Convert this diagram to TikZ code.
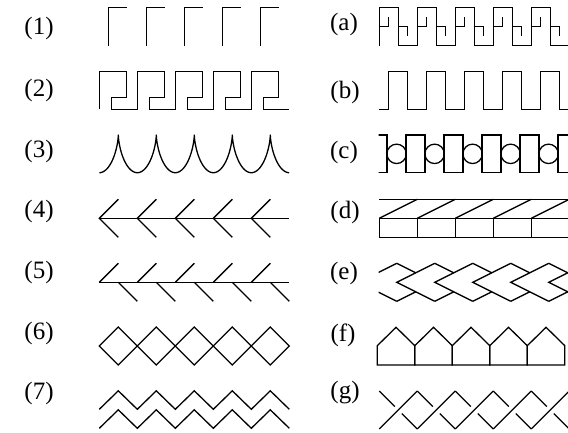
\documentclass[tikz,border=0pt]{standalone}
\usepackage{fontspec}
\setmainfont{Liberation Serif}
\begin{document}
\begin{tikzpicture}[x=1pt,y=-1pt,line width=1.3pt,line join=miter,
  lbl/.style={font=\fontsize{25}{28}\selectfont,inner sep=0pt}]
\useasboundingbox (0,0) rectangle (568,433);
% labels
\node[lbl] (l1) at (39,28) {(1)};
\node[lbl] (l2) at (39,90) {(2)};
\node[lbl] (l3) at (39,151) {(3)};
\node[lbl] (l4) at (39,211) {(4)};
\node[lbl] (l5) at (39,272) {(5)};
\node[lbl] (l6) at (39,333) {(6)};
\node[lbl] (l7) at (39,393) {(7)};
\node[lbl] (la) at (344,24) {(a)};
\node[lbl] (lb) at (345,92) {(b)};
\node[lbl] (lc) at (344,152) {(c)};
\node[lbl] (ld) at (345,212) {(d)};
\node[lbl] (le) at (344,273) {(e)};
\node[lbl] (lf) at (343,335) {(f)};
\node[lbl] (lg) at (345,393) {(g)};
% (1)
\foreach \k in {0,...,4}
  \draw ({108.3+38*\k},45.7) -- ++(0,-38.4) -- ++(19,0);
% (2) greek key
\draw (99.3,109.3) \foreach \k in {0,...,4}{
  -- ({99.3+38*\k},71.7) -- ({126.3+38*\k},71.7) -- ({126.3+38*\k},97.3)
  -- ({111.8+38*\k},97.3) -- ({111.8+38*\k},109.3) -- ({137.3+38*\k},109.3)};
% (3) cusps
\draw[line join=round] plot[domain=-3.14159:28.2743,samples=500,smooth]
  ({118.3+6.048*(\x - sin(\x r))},{135+18.85*(1-cos(\x r))});
% (4)
\draw (99.3,218.3) -- (289.3,218.3);
\foreach \k in {0,...,4}
  \draw ({118.3+38*\k},199.3) -- ({99.3+38*\k},218.3) -- ({118.3+38*\k},237.3);
% (5)
\draw (99.3,282.3) -- (289.3,282.3);
\foreach \k in {0,...,4}{
  \draw ({99.3+38*\k},282.3) -- ++(19,-19);
  \draw ({118.3+38*\k},282.3) -- ++(19,19);}
% (6)
\foreach \k in {0,...,4}
  \draw ({99.3+38*\k},346) -- ++(19,-19) -- ++(19,19) -- ++(-19,19) -- cycle;
% (7)
\draw (99.3,409.3) \foreach \k in {0,...,4}{ -- ({118.3+38*\k},390.8) -- ({137.3+38*\k},409.3)};
\draw (99.3,428.3) \foreach \k in {0,...,4}{ -- ({118.3+38*\k},409.8) -- ({137.3+38*\k},428.3)};
% (a)
\foreach \k in {0,...,4}{
  \draw ({379.3+38*\k},45.7) -- ++(0,-38.4) -- ++(19,0) -- ++(0,38.4) -- ++(19,0) -- ++(0,-38.4);
  \draw ({379.3+38*\k},26.5) -- ++(9.5,0) -- ++(0,-9.5);
  \draw ({398.3+38*\k},26.5) -- ++(9.5,0) -- ++(0,9.5);}
% (b)
\draw (379.3,109.3) \foreach \k in {0,...,4}{
  -- ({388.8+38*\k},109.3) -- ({388.8+38*\k},71.7) -- ({407.8+38*\k},71.7)
  -- ({407.8+38*\k},109.3) -- ({417.3+38*\k},109.3)};
% (c)
\begin{scope}
\clip (378.5,120) rectangle (568,190);
\foreach \k in {0,...,5}
  \draw ({368+38*\k},135) rectangle ({387+38*\k},172.7);
\foreach \k in {0,...,4}
  \draw ({396.6+38*\k},153.85) circle[radius=9.7];
\end{scope}
% (d)
\draw (379.3,199.3) -- (570,199.3);
\draw (379.3,218.3) -- (570,218.3);
\draw (379.3,237.3) -- (570,237.3);
\foreach \k in {0,...,4}{
  \draw ({379.3+38*\k},218.3) -- ++(0,19);
  \draw ({379.3+38*\k},218.3) -- ++(38,-19);}
% (e)
\begin{scope}
\clip (378.5,250) rectangle (568,320);
\foreach \k in {-1,...,4}
  \draw ({434.7+38*\k},263.3) -- ({396.7+38*\k},282.3) -- ({434.7+38*\k},301.3);
\foreach \k in {0,...,4}{
  \draw ({396.7+38*\k},263.3) -- ++(19,9.5);
  \draw ({396.7+38*\k},301.3) -- ++(19,-9.5);}
\end{scope}
% (f)
\foreach \k in {0,...,4}
  \draw ({377.3+37.5*\k},365) -- ++(0,-19.3) -- ++(18.75,-18.4) -- ++(18.75,18.4) -- ++(0,19.3) -- cycle;
% (g)
\foreach \k in {0,...,4}{
  \draw ({379.3+38*\k},429) -- ++(38,-38);
  \draw ({379.3+38*\k},391) -- ++(15.5,15.5);
  \draw ({401.8+38*\k},413.5) -- ++(15.5,15.5);}
\end{tikzpicture}
\end{document}
